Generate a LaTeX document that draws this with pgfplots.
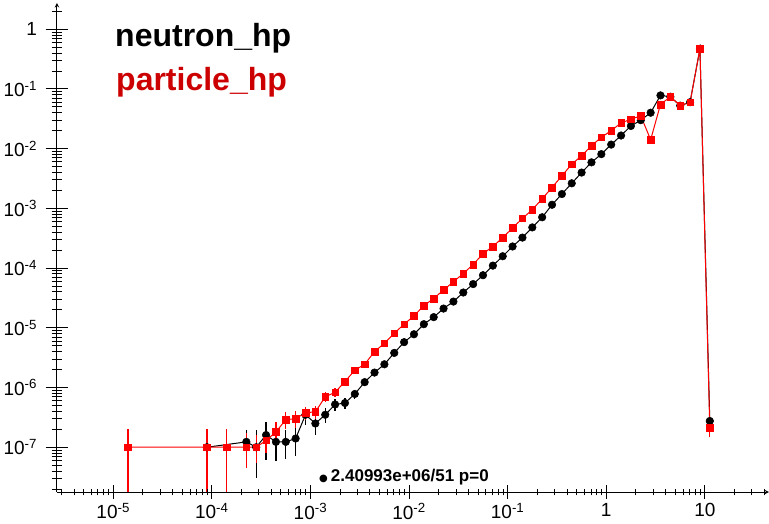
\documentclass[border=0pt]{standalone}
\usepackage{pgfplots}
\pgfplotsset{compat=1.18}
\usepackage{pgfplotstable}
\usepackage{fontspec}
\setmainfont{Liberation Sans}
\newfontfamily\dejavu{DejaVu Sans}
\definecolor{rootred}{RGB}{255,0,0}
\definecolor{legred}{RGB}{204,0,0}

\pgfplotstableread{
x y ep em
8.9125e-5 1.0e-7 1.0e-7 0.99e-7
2.2387e-4 1.23e-7 0.7e-7 0.55e-7
2.8184e-4 1.0e-7 0.95e-7 0.7e-7
3.5481e-4 1.6e-7 1.0e-7 1.0e-7
4.4668e-4 1.23e-7 0.7e-7 0.65e-7
5.6234e-4 1.23e-7 0.7e-7 0.6e-7
7.0795e-4 1.4e-7 0.8e-7 0.7e-7
8.9125e-4 3.5e-7 1.2e-7 1.1e-7
1.1220e-3 2.5e-7 1.0e-7 0.9e-7
1.4125e-3 3.5e-7 1.1e-7 1.0e-7
1.7783e-3 5.2e-7 1.3e-7 1.2e-7
2.2387e-3 5.5e-7 1.3e-7 1.2e-7
2.8184e-3 7.8e-7 1.4e-7 1.3e-7
3.5481e-3 1.23e-6 1.6e-7 1.5e-7
4.4668e-3 1.78e-6 0 0
5.6234e-3 2.45e-6 0 0
7.0795e-3 3.8e-6 0 0
8.9125e-3 5.75e-6 0 0
1.1220e-2 7.8e-6 0 0
1.4125e-2 1.15e-5 0 0
1.7783e-2 1.51e-5 0 0
2.2387e-2 2.1e-5 0 0
2.8184e-2 2.75e-5 0 0
3.5481e-2 3.9e-5 0 0
4.4668e-2 5.4e-5 0 0
5.6234e-2 7.6e-5 0 0
7.0795e-2 1.10e-4 0 0
8.9125e-2 1.58e-4 0 0
0.11220 2.3e-4 0 0
0.14125 3.24e-4 0 0
0.17783 4.8e-4 0 0
0.22387 7.1e-4 0 0
0.28184 1.15e-3 0 0
0.35481 1.74e-3 0 0
0.44668 2.63e-3 0 0
0.56234 3.98e-3 0 0
0.70795 5.9e-3 0 0
0.89125 8.1e-3 0 0
1.1220 1.17e-2 0 0
1.4125 1.66e-2 0 0
1.7783 2.4e-2 0 0
2.2387 3.0e-2 0 0
2.8184 4.0e-2 0 0
3.5481 7.8e-2 0 0
4.4668 7.4e-2 0 0
5.6234 5.25e-2 0 0
7.0795 6.0e-2 0 0
8.9125 0.47 0 0
11.220 2.75e-7 3.5e-7 1.0e-7
}\neutron

\pgfplotstableread{
x y ep em
1.4125e-5 1.0e-7 1.0e-7 0.99e-7
8.9125e-5 1.0e-7 1.0e-7 0.99e-7
1.4125e-4 1.0e-7 1.0e-7 0.99e-7
2.2387e-4 1.0e-7 0.7e-7 0.55e-7
2.8184e-4 1.0e-7 0.6e-7 0.45e-7
3.5481e-4 1.3e-7 0.6e-7 0.5e-7
4.4668e-4 1.8e-7 0.8e-7 0.7e-7
5.6234e-4 2.9e-7 1.0e-7 0.9e-7
7.0795e-4 3.0e-7 1.0e-7 0.9e-7
8.9125e-4 3.8e-7 1.0e-7 0.9e-7
1.1220e-3 3.9e-7 1.0e-7 0.9e-7
1.4125e-3 7.0e-7 1.3e-7 1.2e-7
1.7783e-3 8.3e-7 1.4e-7 1.3e-7
2.2387e-3 1.26e-6 1.6e-7 1.5e-7
2.8184e-3 1.95e-6 0 0
3.5481e-3 2.45e-6 0 0
4.4668e-3 4.0e-6 0 0
5.6234e-3 5.5e-6 0 0
7.0795e-3 8.1e-6 0 0
8.9125e-3 1.15e-5 0 0
1.1220e-2 1.58e-5 0 0
1.4125e-2 2.35e-5 0 0
1.7783e-2 3.1e-5 0 0
2.2387e-2 4.3e-5 0 0
2.8184e-2 5.9e-5 0 0
3.5481e-2 8.1e-5 0 0
4.4668e-2 1.15e-4 0 0
5.6234e-2 1.74e-4 0 0
7.0795e-2 2.3e-4 0 0
8.9125e-2 3.24e-4 0 0
0.11220 4.7e-4 0 0
0.14125 6.8e-4 0 0
0.17783 9.5e-4 0 0
0.22387 1.45e-3 0 0
0.28184 2.24e-3 0 0
0.35481 3.5e-3 0 0
0.44668 5.5e-3 0 0
0.56234 7.6e-3 0 0
0.70795 1.12e-2 0 0
0.89125 1.55e-2 0 0
1.1220 2.0e-2 0 0
1.4125 2.7e-2 0 0
1.7783 3.1e-2 0 0
2.2387 3.55e-2 0 0
2.8184 1.41e-2 0 0
3.5481 5.5e-2 0 0
4.4668 7.4e-2 0 0
5.6234 5.25e-2 0 0
7.0795 6.0e-2 0 0
8.9125 0.47 0 0
11.220 2.1e-7 0.5e-7 0.6e-7
}\particle

\begin{document}
\begin{tikzpicture}
\path[use as bounding box] (0pt,0pt) rectangle (769pt,524pt);

% axis with data and y axis
\begin{axis}[
  xmode=log, ymode=log, scale only axis,
  width=712pt, height=489pt,
  at={(57pt,32pt)}, anchor=south west,
  xmin=2.69e-6, xmax=44.7, ymin=1.78e-8, ymax=2.75,
  tick align=inside,
  axis line style={line width=1pt, -},
  tick style={line width=0.9pt, black},
  ticklabel style={font=\fontsize{19}{19}\selectfont},
  axis x line=none, axis y line=left,
  xtick=\empty,
  ytick={1e-7,1e-6,1e-5,1e-4,1e-3,1e-2,1e-1,1},
  yticklabels={10\textsuperscript{-7},10\textsuperscript{-6},10\textsuperscript{-5},10\textsuperscript{-4},10\textsuperscript{-3},10\textsuperscript{-2},10\textsuperscript{-1},1},
  minor ytick={2e-8,3e-8,4e-8,5e-8,6e-8,7e-8,8e-8,9e-8,
    2e-7,3e-7,4e-7,5e-7,6e-7,7e-7,8e-7,9e-7,
    2e-6,3e-6,4e-6,5e-6,6e-6,7e-6,8e-6,9e-6,
    2e-5,3e-5,4e-5,5e-5,6e-5,7e-5,8e-5,9e-5,
    2e-4,3e-4,4e-4,5e-4,6e-4,7e-4,8e-4,9e-4,
    2e-3,3e-3,4e-3,5e-3,6e-3,7e-3,8e-3,9e-3,
    2e-2,3e-2,4e-2,5e-2,6e-2,7e-2,8e-2,9e-2,
    0.2,0.3,0.4,0.5,0.6,0.7,0.8,0.9,2},
  major tick length=23pt, minor tick length=11pt,
  yticklabel style={xshift=-5pt},
]
\addplot[black, line width=1pt, mark=*, mark size=3.8pt,
  mark options={fill=black, draw=black, line width=0.5pt},
  error bars/.cd, y dir=both, y explicit,
  error bar style={line width=1.2pt, black}, error mark=none]
  table[x=x, y=y, y error plus=ep, y error minus=em] {\neutron};
\addplot[rootred, line width=1pt, mark=square*, mark size=3.3pt,
  mark options={fill=rootred, draw=rootred, line width=0.5pt},
  error bars/.cd, y dir=both, y explicit,
  error bar style={line width=1.2pt, rootred}, error mark=none]
  table[x=x, y=y, y error plus=ep, y error minus=em] {\particle};
\end{axis}

% x axis only
\begin{axis}[
  xmode=log, ymode=log, scale only axis,
  width=712pt, height=489pt,
  at={(57pt,32pt)}, anchor=south west,
  xmin=2.69e-6, xmax=44.7, ymin=1.78e-8, ymax=2.75,
  tick align=inside,
  axis line style={line width=1pt, -},
  tick style={line width=0.9pt, black},
  ticklabel style={font=\fontsize{19}{19}\selectfont},
  axis y line=none, axis x line=bottom,
  ytick=\empty,
  xtick={1e-5,1e-4,1e-3,1e-2,1e-1,1,10},
  xticklabels={10\textsuperscript{-5},10\textsuperscript{-4},10\textsuperscript{-3},10\textsuperscript{-2},10\textsuperscript{-1},1,10},
  minor xtick={3e-6,4e-6,5e-6,6e-6,7e-6,8e-6,9e-6,
    2e-5,3e-5,4e-5,5e-5,6e-5,7e-5,8e-5,9e-5,
    2e-4,3e-4,4e-4,5e-4,6e-4,7e-4,8e-4,9e-4,
    2e-3,3e-3,4e-3,5e-3,6e-3,7e-3,8e-3,9e-3,
    2e-2,3e-2,4e-2,5e-2,6e-2,7e-2,8e-2,9e-2,
    0.2,0.3,0.4,0.5,0.6,0.7,0.8,0.9,
    2,3,4,5,6,7,8,9,20,30,40},
  major tick length=14pt, minor tick length=7pt,
  xticklabel style={yshift=-1pt},
]
\end{axis}

\node[anchor=base west, inner sep=0pt, font=\fontsize{32}{32}\selectfont\bfseries] at (115pt,477pt) {neutron\_hp};
\node[anchor=base west, inner sep=0pt, text=legred, font=\fontsize{32}{32}\selectfont\bfseries] at (116pt,433pt) {particle\_hp};
\node[anchor=base west, inner sep=0pt, font=\fontsize{17}{17}\selectfont\bfseries] at (319pt,42pt) {{\dejavu\fontsize{10}{10}\selectfont ●}\hspace{3pt}2.40993e+06/51 p=0};
\end{tikzpicture}
\end{document}
